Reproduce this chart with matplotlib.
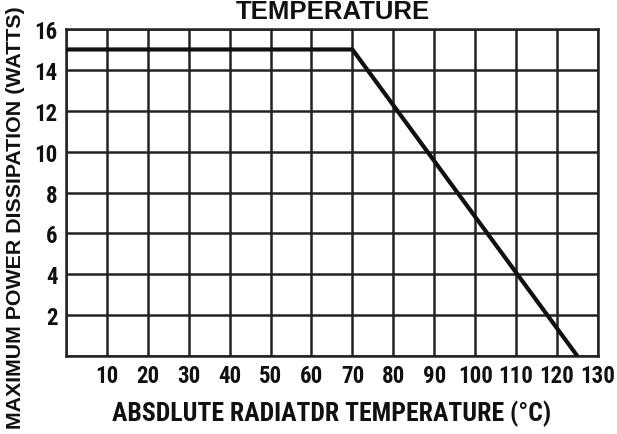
import matplotlib.pyplot as plt

# Derating curve: flat at 15 W up to 70 C, then linear down to zero at 125 C
temp_c = [0, 70, 125]
power_w = [15, 15, 0]

x_ticks = [10, 20, 30, 40, 50, 60, 70, 80, 90, 100, 110, 120, 130]
y_ticks = [2, 4, 6, 8, 10, 12, 14, 16]

narrow = ['Roboto Condensed', 'DejaVu Sans']
wide = ['Liberation Sans', 'DejaVu Sans']
ink = '#111111'

fig = plt.figure(figsize=(6.17, 4.35), dpi=100)
ax = fig.add_axes([0.107, 0.179, 0.862, 0.752])

ax.plot(temp_c, power_w, color=ink, lw=3, solid_capstyle='butt', zorder=3)

ax.set_xlim(0, 130)
ax.set_ylim(0, 16)
ax.set_xticks(range(0, 131, 10))
ax.set_yticks(range(0, 17, 2))
ax.set_xticklabels([''] + [str(v) for v in x_ticks])
ax.set_yticklabels([''] + [str(v) for v in y_ticks])
ax.grid(True, color='#222222', lw=1.8)
ax.tick_params(length=0, labelsize=16.5, labelcolor=ink)
ax.tick_params(axis='x', pad=6)
ax.tick_params(axis='y', pad=6)
for lab in ax.get_xticklabels() + ax.get_yticklabels():
    lab.set_family(narrow)
    lab.set_weight('bold')
for s in ax.spines.values():
    s.set_color('#222222')
    s.set_linewidth(1.8)

ax.set_xlabel('ABSDLUTE RADIATDR TEMPERATURE (°C)', family=narrow, weight='bold',
              fontsize=18.5, color=ink, labelpad=9)
fig.text(0.025, 0.5, 'MAXIMUM POWER DISSIPATION (WATTS)', rotation=90,
         ha='center', va='center', family=wide, weight='bold',
         fontsize=15.4, color=ink)
fig.text(0.539, 1.0, 'TEMPERATURE', ha='center', va='top',
         family=wide, weight='bold', fontsize=18.5, color=ink)

fig.savefig('out.png', dpi=100)
